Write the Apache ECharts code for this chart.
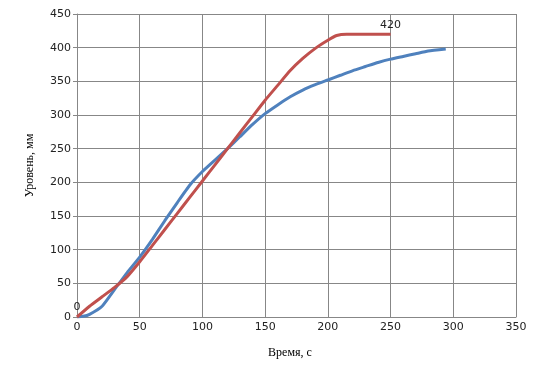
<!DOCTYPE html>
<html><head><meta charset="utf-8">
<script src="https://cdn.jsdelivr.net/npm/echarts@6/dist/echarts.min.js"></script>
<style>html,body{margin:0;padding:0;background:#fff}#c{width:537px;height:381px}</style>
</head><body><div id="c"></div>
<script>
var xTicks = [0, 50, 100, 150, 200, 250, 300, 350];
var yTicks = [0, 50, 100, 150, 200, 250, 300, 350, 400, 450];

var redX = [0, 10, 20, 30, 40, 50, 60, 70, 80, 90, 100, 110, 120, 130, 140, 150, 160, 170, 180, 190, 200, 207, 215, 230, 250];
var redY = [0, 16, 30, 44, 60, 82, 106, 130, 154, 178, 202, 226, 250, 274, 298, 322, 344, 366, 384, 399, 411, 418, 420, 420, 420];

var blueX = [0, 5, 10, 20, 30, 40, 50, 60, 70, 80, 90, 100, 110, 120, 130, 140, 150, 160, 170, 180, 190, 200, 210, 220, 230, 240, 250, 260, 270, 280, 294];
var blueY = [0, 1, 4, 16, 41, 66, 89, 115, 143, 170, 196, 216, 233, 250, 268, 286, 302, 315, 327, 337, 345, 352, 359, 366, 372, 378, 383, 387, 391, 395, 398];

function pairs(xs, ys, labelEnds) {
  return xs.map(function (x, i) {
    var item = { value: [x, ys[i]] };
    if (labelEnds && (i === 0 || i === xs.length - 1)) {
      item.label = { show: true, position: 'top', distance: 4, formatter: String(ys[i]),
        fontFamily: 'DejaVu Sans', fontSize: 11, color: '#222' };
    }
    return item;
  });
}

var chart = echarts.init(document.getElementById('c'), null, { renderer: 'canvas' });
var gridColor = '#878787';
chart.setOption({
  animation: false,
  backgroundColor: '#fff',
  grid: { left: 77, right: 21, top: 14, bottom: 64 },
  xAxis: {
    type: 'value', min: xTicks[0], max: xTicks[xTicks.length - 1], interval: 50,
    name: 'Время, с', nameLocation: 'middle', nameGap: 30,
    nameTextStyle: { fontFamily: 'Liberation Serif', fontSize: 12, color: '#000', padding: [0, 13, 0, 0] },
    axisLine: { show: true, lineStyle: { color: gridColor, width: 1 } },
    axisTick: { show: false },
    axisLabel: { margin: 5, fontFamily: 'DejaVu Sans', fontSize: 11, color: '#222' },
    splitLine: { show: true, lineStyle: { color: gridColor, width: 1 } }
  },
  yAxis: {
    type: 'value', min: yTicks[0], max: yTicks[yTicks.length - 1], interval: 50,
    name: 'Уровень, мм', nameLocation: 'middle', nameGap: 41, nameRotate: 90,
    nameTextStyle: { fontFamily: 'Liberation Serif', fontSize: 12, color: '#000' },
    axisLine: { show: true, lineStyle: { color: gridColor, width: 1 } },
    axisTick: { show: true, length: 4, lineStyle: { color: gridColor } },
    axisLabel: { margin: 6, fontFamily: 'DejaVu Sans', fontSize: 11, color: '#222' },
    splitLine: { show: true, lineStyle: { color: gridColor, width: 1 } }
  },
  series: [
    { type: 'line', data: pairs(blueX, blueY, false), symbol: 'none',
      smooth: 0.15, lineStyle: { color: '#4F81BD', width: 3 }, itemStyle: { color: '#4F81BD' }, z: 2 },
    { type: 'line', data: pairs(redX, redY, true), symbol: 'circle', symbolSize: 0.1, showSymbol: true,
      smooth: 0.15, lineStyle: { color: '#C0504D', width: 3 }, itemStyle: { color: '#C0504D' }, z: 3,
      label: { show: false } }
  ]
});
</script></body></html>
